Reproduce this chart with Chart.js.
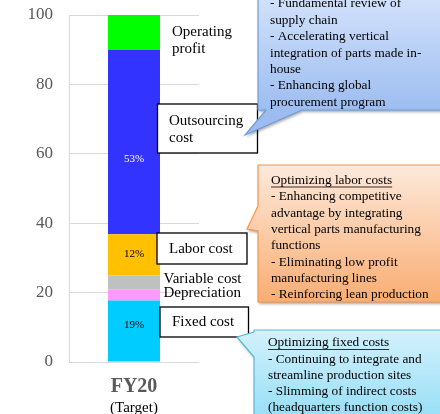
<!DOCTYPE html>
<html><head><meta charset="utf-8">
<script src="https://cdn.jsdelivr.net/npm/chart.js@4"></script>
<style>html,body{margin:0;padding:0;background:#fff;}#wrap{width:440px;height:414px;position:relative;}</style>
</head><body><div id="wrap"><canvas id="c" width="440" height="414"></canvas></div>
<script>
const categories = ["FY20"];
const categorySub = "(Target)";
const seriesNames = ["Fixed cost", "Depreciation", "Variable cost", "Labor cost", "Outsourcing cost", "Operating profit"];
const seriesValues = [17.7, 3.1, 4.1, 11.9, 53.1, 10.1];
const seriesColors = ["#00CCFF", "#FF99FF", "#C0C0C0", "#FFC000", "#3333FF", "#00FF00"];
const segmentLabels = ["19%", "", "", "12%", "53%", ""];
const segmentLabelAt = [10.7, null, null, 31, 58.5, null];
const segmentLabelColors = ["#000000", "#000", "#000", "#000000", "#FFFFFF", "#000"];
const yTicks = [0, 20, 40, 60, 80, 100];

const SERIF = '"Liberation Serif", "Times New Roman", serif';

const blueNote = ["- Fundamental review of", "supply chain", "- Accelerating vertical", "integration of parts made in-", "house", "- Enhancing global", "procurement program"];
const orangeTitle = "Optimizing labor costs";
const orangeNote = ["- Enhancing competitive", "advantage by integrating", "vertical parts manufacturing", "functions", "- Eliminating low profit", "manufacturing lines", "- Reinforcing lean production"];
const cyanTitle = "Optimizing fixed costs";
const cyanNote = ["- Continuing to integrate and", "streamline production sites", "- Slimming of indirect costs", "(headquarters function costs)"];

function callout(ctx, box, ptr, c0, c1, border) {
  ctx.save();
  const path = () => {
    ctx.beginPath();
    ctx.moveTo(box.x, box.y);
    ctx.lineTo(box.x + box.w, box.y);
    ctx.lineTo(box.x + box.w, box.y + box.h);
    if (ptr.side === 'bottom') {
      ctx.lineTo(ptr.p2[0], ptr.p2[1]);
      ctx.lineTo(ptr.tip[0], ptr.tip[1]);
      ctx.lineTo(ptr.p1[0], ptr.p1[1]);
      ctx.lineTo(box.x, box.y + box.h);
      ctx.closePath();
    } else {
      ctx.lineTo(box.x, box.y + box.h);
      ctx.lineTo(ptr.p2[0], ptr.p2[1]);
      ctx.lineTo(ptr.tip[0], ptr.tip[1]);
      ctx.lineTo(ptr.p1[0], ptr.p1[1]);
      ctx.closePath();
    }
  };
  ctx.save();
  ctx.shadowColor = 'rgba(0,0,0,0.35)';
  ctx.shadowBlur = 3;
  ctx.shadowOffsetX = 1;
  ctx.shadowOffsetY = 2;
  path();
  const g = ctx.createLinearGradient(0, box.y, 0, box.y + box.h);
  g.addColorStop(0, c0); g.addColorStop(1, c1);
  ctx.fillStyle = g;
  ctx.fill();
  ctx.restore();
  path();
  ctx.lineWidth = 1.2;
  ctx.strokeStyle = border;
  ctx.stroke();
  ctx.restore();
}

function textLines(ctx, lines, x, y0, dy, font, color) {
  ctx.font = font; ctx.fillStyle = color; ctx.textAlign = 'left'; ctx.textBaseline = 'middle';
  lines.forEach((t, i) => ctx.fillText(t, x, y0 + i * dy));
}
function underlined(ctx, t, x, y, font, color) {
  ctx.font = font; ctx.fillStyle = color; ctx.textAlign = 'left'; ctx.textBaseline = 'middle';
  ctx.fillText(t, x, y);
  const w = ctx.measureText(t).width;
  ctx.strokeStyle = color; ctx.lineWidth = 0.8;
  ctx.beginPath(); ctx.moveTo(x, y + 6.5); ctx.lineTo(x + w, y + 6.5); ctx.stroke();
}
function labelBox(ctx, x, y, w, h) {
  ctx.save();
  ctx.fillStyle = '#fff'; ctx.fillRect(x, y, w, h);
  ctx.strokeStyle = '#000'; ctx.lineWidth = 1.3; ctx.strokeRect(x, y, w, h);
  ctx.restore();
}

const annot = {
  id: 'annot',
  afterDatasetsDraw(chart) {
    const ctx = chart.ctx;
    const ys = chart.scales.y;
    chart.data.datasets.forEach((ds, i) => {
      const t = segmentLabels[i];
      if (!t) return;
      const el = chart.getDatasetMeta(i).data[0];
      const yc = segmentLabelAt[i] != null ? ys.getPixelForValue(segmentLabelAt[i]) : (el.y + el.base) / 2;
      ctx.save();
      ctx.font = '11px ' + SERIF; ctx.fillStyle = segmentLabelColors[i];
      ctx.textAlign = 'center'; ctx.textBaseline = 'middle';
      ctx.fillText(t, el.x, yc);
      ctx.restore();
    });
  },
  afterDraw(chart) {
    const ctx = chart.ctx;
    ctx.save();
    ctx.font = '16px ' + SERIF; ctx.fillStyle = '#000'; ctx.textAlign = 'left'; ctx.textBaseline = 'alphabetic';
    ctx.fillText("(Composition ratio, % of sales)", 2, -4);

    const f15 = '15px ' + SERIF;
    textLines(ctx, ["Operating", "profit"], 172, 32, 17.5, f15, '#000');
    labelBox(ctx, 157.5, 104, 100, 49);
    textLines(ctx, ["Outsourcing", "cost"], 169, 121, 17.5, f15, '#000');
    labelBox(ctx, 157, 233, 90, 31);
    textLines(ctx, ["Labor cost"], 169, 249.5, 17, f15, '#000');
    textLines(ctx, ["Variable cost", "Depreciation"], 163.5, 279.5, 14, f15, '#000');
    labelBox(ctx, 160, 307, 88.5, 30);
    textLines(ctx, ["Fixed cost"], 172, 322, 17, f15, '#000');

    const f13 = '13.3px ' + SERIF;
    callout(ctx, {x: 258, y: -20, w: 200, h: 130},
      {side: 'bottom', p1: [266, 110], tip: [245, 135], p2: [302, 110]},
      '#dae7fc', '#9dbdf1', '#6f9ddc');
    textLines(ctx, blueNote, 270, 4, 16.4, f13, '#000');
    callout(ctx, {x: 258, y: 165, w: 200, h: 137},
      {side: 'left', p1: [258, 206], tip: [247, 229], p2: [258, 231]},
      '#fde9db', '#f9ad72', '#f79646');
    underlined(ctx, orangeTitle, 271, 180.5, f13, '#000');
    textLines(ctx, orangeNote, 271, 197, 16.3, f13, '#000');
    callout(ctx, {x: 254, y: 330, w: 200, h: 100},
      {side: 'left', p1: [254, 332], tip: [237, 337], p2: [254, 357]},
      '#d3f1fc', '#8fdcf5', '#5ab9d6');
    underlined(ctx, cyanTitle, 268, 343, f13, '#000');
    textLines(ctx, cyanNote, 268, 359.3, 16, f13, '#000');
    ctx.restore();
  }
};

new Chart(document.getElementById('c'), {
  type: 'bar',
  data: {
    labels: categories,
    datasets: seriesNames.map((n, i) => ({
      label: n,
      data: [seriesValues[i]],
      backgroundColor: seriesColors[i],
      borderWidth: 0,
      barPercentage: 0.4,
      categoryPercentage: 1.0
    }))
  },
  options: {
    responsive: false,
    animation: false,
    events: [],
    layout: {padding: {top: 15, right: 241, bottom: -2, left: 0}},
    plugins: {legend: {display: false}, tooltip: {enabled: false}},
    scales: {
      x: {
        stacked: true,
        grid: {display: false, drawTicks: false},
        border: {display: false},
        ticks: {font: {family: SERIF, size: 20, weight: 'bold'}, color: '#595959', padding: 13},
        title: {display: true, text: categorySub, font: {family: SERIF, size: 15, lineHeight: 1.0}, color: '#000', padding: {top: 0, bottom: 0}},
        afterFit(s) { s.height = 54; }
      },
      y: {
        stacked: true,
        min: 0, max: 100,
        afterBuildTicks(s) { s.ticks = yTicks.map(v => ({value: v})); },
        grid: {color: '#d9d9d9', drawTicks: true, tickLength: 16, tickColor: 'rgba(0,0,0,0)', lineWidth: 1},
        border: {display: true, color: '#d9d9d9'},
        ticks: {font: {family: SERIF, size: 17}, color: '#595959', padding: 0},
        afterFit(s) { s.width = 69; }
      }
    }
  },
  plugins: [annot]
});
</script></body></html>
